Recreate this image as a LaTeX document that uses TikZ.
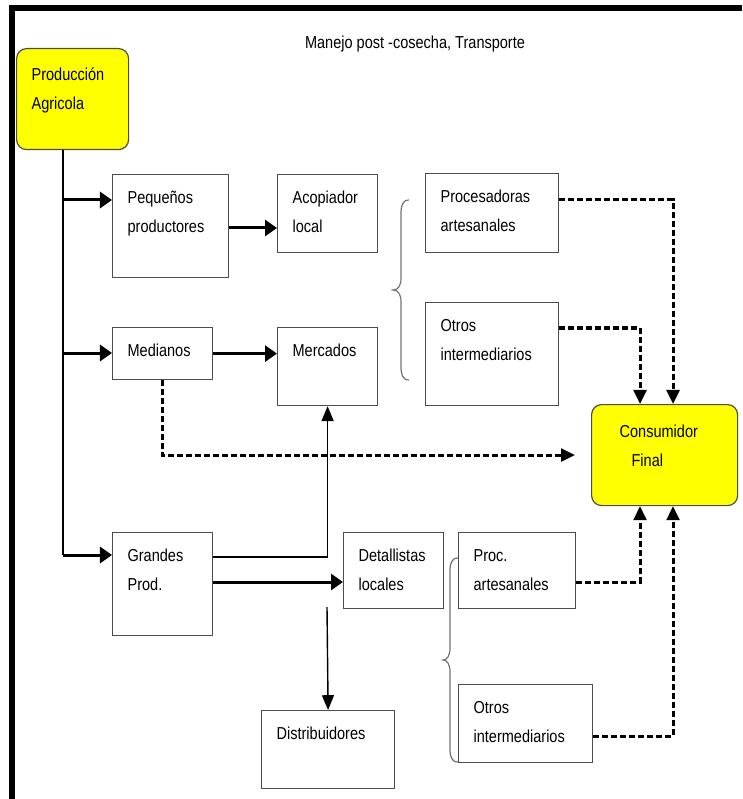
\documentclass[tikz,border=0pt]{standalone}
\usepackage{fontspec}
\setmainfont{Liberation Sans}[FakeStretch=0.84]
\usetikzlibrary{arrows.meta}
\definecolor{am}{rgb}{1, 1, 0}
\definecolor{bd}{rgb}{0.3, 0.3, 0.3}
\definecolor{gl}{rgb}{0.45, 0.45, 0.45}
\newlength{\pxu}
\setlength{\pxu}{0.025cm}
% caja de texto: [primera linea]{ancho}{alto}{texto}
\newcommand{\caja}[4][29]{%
  \begin{minipage}[t][#3\pxu][t]{#2\pxu}
    \leftskip=15\pxu\rule{0pt}{#1\pxu}#4
  \end{minipage}}

\begin{document}
\begin{tikzpicture}[x=0.025cm, y=-0.025cm,
    font=\fontsize{12.3}{20.6}\selectfont,
    bloque/.style={draw=bd, line width=0.03cm, inner sep=0pt, anchor=north west},
    bloqueam/.style={bloque, fill=am, rounded corners=0.25cm},
    fina/.style={line width=0.035cm},
    flecha/.style={line width=0.075cm, -{Triangle[length=0.3cm,width=0.4cm]}},
    flechafina/.style={line width=0.035cm, -{Triangle[length=0.37cm,width=0.3cm]}},
    punteada/.style={line width=0.075cm, dash pattern=on 0.15cm off 0.075cm,
                     -{Triangle[length=0.35cm,width=0.32cm]}},
    llave/.style={draw=gl, line width=0.03cm},
    marco/.style={line width=0.13cm}]
  \useasboundingbox (0,0) rectangle (742,799);
  \draw[marco] (12,799) -- (12,8) -- (742,8);
  \node (titulo) at (415,44) {Manejo post -cosecha, Transporte};

  % productores
  \node[bloqueam] (prod) at (16,48) {\caja[32]{112}{101}{Producción\\Agricola}};
  \node[bloque] (peq) at (112,174) {\caja{116}{103}{Pequeños\\productores}};
  \node[bloque] (med) at (112,327) {\caja{100}{52}{Medianos}};
  \node[bloque] (grand) at (112,532) {\caja{100}{103}{Grandes\\Prod.}};

  % intermediarios
  \node[bloque] (acop) at (277,174) {\caja{100}{78}{Acopiador\\local}};
  \node[bloque] (merc) at (277,327) {\caja{100}{78}{Mercados}};
  \node[bloque] (detal) at (343,532) {\caja{100}{76}{Detallistas\\locales}};
  \node[bloque] (distr) at (261,710) {\caja{133}{78}{Distribuidores}};
  \node[bloque] (proc) at (425,173) {\caja{133}{79}{Procesadoras\\artesanales}};
  \node[bloque] (otros) at (425,302) {\caja{133}{103}{Otros\\intermediarios}};
  \node[bloque] (proca) at (458,532) {\caja{117}{76}{Proc.\\artesanales}};
  \node[bloque] (otrosb) at (458,684) {\caja{134}{78}{Otros\\intermediarios}};

  % consumidor
  \node[bloqueam] (cons) at (591,404)
    {\caja[33]{146}{101}{\hspace*{13\pxu}Consumidor\\\hspace*{25\pxu}Final}};

  % eje de produccion
  \coordinate (e1) at (63,200);
  \coordinate (e2) at (63,353);
  \coordinate (e3) at (63,555);
  \coordinate (bif) at (327,607);
  \draw[fina] (prod.south -| e1) -- (e3);
  \draw[flecha] (e1) -- (e1 -| peq.west);
  \draw[flecha] (e2) -- (e2 -| med.west);
  \draw[flecha] (e3) -- (e3 -| grand.west);

  \draw[flecha] ([shift={(0,54)}]peq.north east) -- ([shift={(0,54)}]acop.north west);
  \draw[flecha] (med.east) -- (med.east -| merc.west);
  \draw[flecha] ([shift={(0,50)}]grand.north east) -- ([shift={(0,50)}]detal.north west);
  \draw[flechafina] ([shift={(0,25)}]grand.north east) -| (merc.south);
  \draw[flechafina] (bif) -- (distr.north);

  % hacia el consumidor
  \draw[punteada] ([shift={(50,0)}]med.south west) |- ([shift={(-16,0)}]cons.west);
  \draw[punteada] ([shift={(0,27)}]proc.north east) -| ([shift={(82,0)}]cons.north west);
  \draw[punteada] ([shift={(0,26)}]otros.north east) -| ([shift={(49,0)}]cons.north west);
  \draw[punteada] ([shift={(0,50)}]proca.north east) -| ([shift={(49,0)}]cons.south west);
  \draw[punteada] ([shift={(0,52)}]otrosb.north east) -| ([shift={(82,0)}]cons.south west);

  % llaves
  \draw[llave] (409,200) .. controls (402,200) and (401,206) .. (401,214) -- (401,278)
    .. controls (401,286) and (398,290) .. (393,290)
    .. controls (398,290) and (401,294) .. (401,302) -- (401,366)
    .. controls (401,374) and (402,380) .. (409,380);
  \draw[llave] (458,558) .. controls (451,558) and (450,564) .. (450,572) -- (450,648)
    .. controls (450,656) and (447,660) .. (443,660)
    .. controls (447,660) and (450,664) .. (450,672) -- (450,748)
    .. controls (450,756) and (451,762) .. (458,762);
\end{tikzpicture}
\end{document}
